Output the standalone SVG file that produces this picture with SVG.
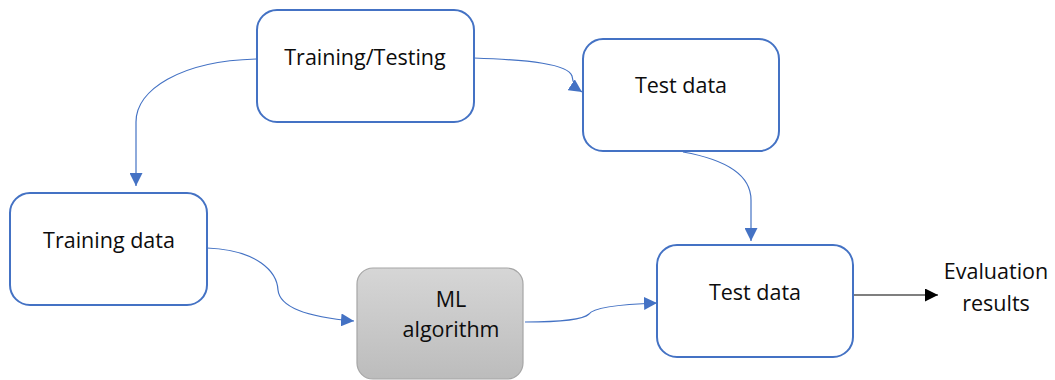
<svg xmlns="http://www.w3.org/2000/svg" width="1055" height="380" viewBox="0 0 1055 380">
<defs>
<linearGradient id="gray" x1="0" y1="0" x2="0" y2="1">
<stop offset="0" stop-color="#d6d6d6"/>
<stop offset="1" stop-color="#bcbcbc"/>
</linearGradient>
<marker id="ab" viewBox="0 0 12 12" refX="12" refY="6" markerWidth="13" markerHeight="13" markerUnits="userSpaceOnUse" orient="auto">
<path d="M0,0 L12,6 L0,12 Z" fill="#4472C4"/>
</marker>
<marker id="ak" viewBox="0 0 12 12" refX="12" refY="6" markerWidth="13" markerHeight="13" markerUnits="userSpaceOnUse" orient="auto">
<path d="M0,0 L12,6 L0,12 Z" fill="#000"/>
</marker>
</defs>
<style>
.box{fill:#fff;stroke:#4472C4;stroke-width:2}
.ml{fill:url(#gray);stroke:#a6a6a6;stroke-width:1.2}
.t{font-family:"Open Sans","Liberation Sans",sans-serif;font-size:21.5px;fill:#0d0d0d;text-anchor:middle}
.c{fill:none;stroke:#4472C4;stroke-width:1.2;marker-end:url(#ab)}
</style>
<rect width="1055" height="380" fill="#fff"/>
<g id="connectors">
<path class="c" d="M256,59 C180,61 136,90 136,122 L136,186"/>
<path class="c" d="M474,58 C530,60 568,64 572,76 Q573,86 582,92"/>
<path class="c" d="M683,152 C728,160 751,176 751,200 L751,241"/>
<path class="c" d="M207,248 C258,250 277,272 278,290 C280,310 318,318 354,321"/>
<path class="c" d="M525,322 C560,322 583,320 589,314 C594,306 630,304 657,303"/>
<path d="M854,295 L938,295" fill="none" stroke="#000" stroke-width="1.2" marker-end="url(#ak)"/>
</g>
<g id="training-testing">
<rect class="box" x="257" y="10" width="217" height="112" rx="20"/>
<text class="t" x="365" y="65">Training/Testing</text>
</g>
<g id="test-data-top">
<rect class="box" x="583" y="39" width="196" height="112" rx="20"/>
<text class="t" x="681" y="93">Test data</text>
</g>
<g id="training-data">
<rect class="box" x="10" y="193" width="197" height="112" rx="20"/>
<text class="t" x="109" y="248">Training data</text>
</g>
<g id="ml-algorithm">
<rect class="ml" x="357" y="268" width="166" height="111" rx="16"/>
<text class="t" x="451" y="307">ML</text>
<text class="t" x="451" y="337">algorithm</text>
</g>
<g id="test-data-bottom">
<rect class="box" x="657" y="245" width="196" height="112" rx="20"/>
<text class="t" x="755" y="300">Test data</text>
</g>
<g id="evaluation">
<text class="t" x="996" y="279">Evaluation</text>
<text class="t" x="996" y="311">results</text>
</g>
</svg>
